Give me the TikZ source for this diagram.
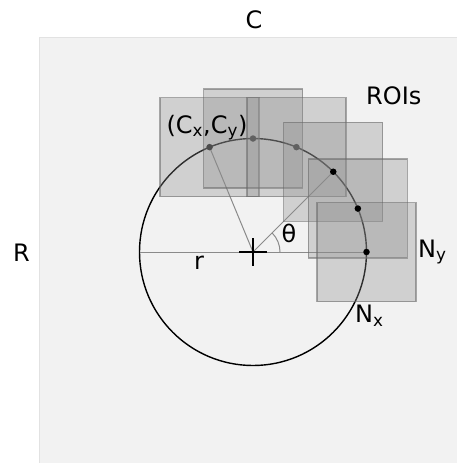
\documentclass[tikz,border=0pt]{standalone}
\usepackage{fontspec}
\setmainfont{DejaVu Sans}
\usetikzlibrary{calc}
\definecolor{bgfill}{HTML}{F2F2F2}
\definecolor{bgedge}{HTML}{E2E2E2}
\definecolor{roifill}{HTML}{8C8C8C}
\definecolor{guidegray}{HTML}{8A8A8A}
\begin{document}
\begin{tikzpicture}[x=1pt,y=-1pt,
  roi/.style={rectangle,minimum size=99pt,inner sep=0pt,fill=roifill,fill opacity=0.33,
              draw=black!60,draw opacity=0.55,line width=1.2pt},
  lbl/.style={font=\fontsize{24}{28}\selectfont,inner sep=0pt,text=black},
  guide/.style={draw=guidegray,line width=1pt},
  pt/.style={circle,fill=black,inner sep=0pt,minimum size=6.5pt}]
\useasboundingbox (0,0) rectangle (457,463);
% background
\fill[bgfill] (39,37) rectangle (457,463);
\draw[bgedge,line width=1.2pt] (39.6,463) -- (39.6,37.6) -- (457,37.6);
% geometry
\coordinate (O) at (253,252);
\coordinate (p0) at ($(O)+(0:113.5pt)$);
\coordinate (p1) at ($(O)+(22.5:113.5pt)$);
\coordinate (p2) at ($(O)+(45:113.5pt)$);
\coordinate (p3) at ($(O)+(67.5:113.5pt)$);
\coordinate (p4) at ($(O)+(90:113.5pt)$);
\coordinate (p5) at ($(O)+(112.5:113.5pt)$);
\coordinate (L) at ($(O)+(180:113.5pt)$);
\coordinate (a0) at ($(O)+(0:27pt)$);
\coordinate (chl) at ($(O)+(-14,0)$);
\coordinate (chr) at ($(O)+(14,0)$);
\coordinate (cht) at ($(O)+(0,-14)$);
\coordinate (chb) at ($(O)+(0,14)$);
% circle
\draw[black,line width=1.4pt] (O) circle[radius=113.5pt];
% guides
\draw[guide] (L) -- (p0);
\draw[guide] (O) -- (p5);
\draw[guide] (O) -- (p2);
\draw[guide] (a0) arc[start angle=0,end angle=45,radius=27pt];
% crosshair
\draw[black,line width=1.3pt] (chl) -- (chr);
\draw[black,line width=1.3pt] (cht) -- (chb);
% covered points
\node[pt] (d5) at (p5) {};
\node[pt] (d4) at (p4) {};
\node[pt] (d3) at (p3) {};
% ROIs
\node[roi] (s5) at (p5) {};
\node[roi] (s4) at (p4) {};
\node[roi] (s3) at (p3) {};
\node[roi] (s2) at (p2) {};
\node[roi] (s1) at (p1) {};
\node[roi] (s0) at (p0) {};
% visible points
\node[pt] (d2) at (p2) {};
\node[pt] (d1) at (p1) {};
\node[pt] (d0) at (p0) {};
% labels
\node[lbl,anchor=base] (tC) at (254,28) {C};
\node[lbl,anchor=base] (tR) at (21.5,261) {R};
\node[lbl,anchor=base west] (tROI) at (366,104) {ROIs};
\node[lbl,anchor=base] (tCxy) at (207,133) {(C\textsubscript{x},C\textsubscript{y})};
\node[lbl,anchor=base] (tr) at (199,269) {r};
\node[lbl,anchor=base] (tth) at (289,242) {θ};
\node[lbl,anchor=base west] (tNy) at (418,257) {N\textsubscript{y}};
\node[lbl,anchor=base west] (tNx) at (355,322.5) {N\textsubscript{x}};
\end{tikzpicture}
\end{document}
